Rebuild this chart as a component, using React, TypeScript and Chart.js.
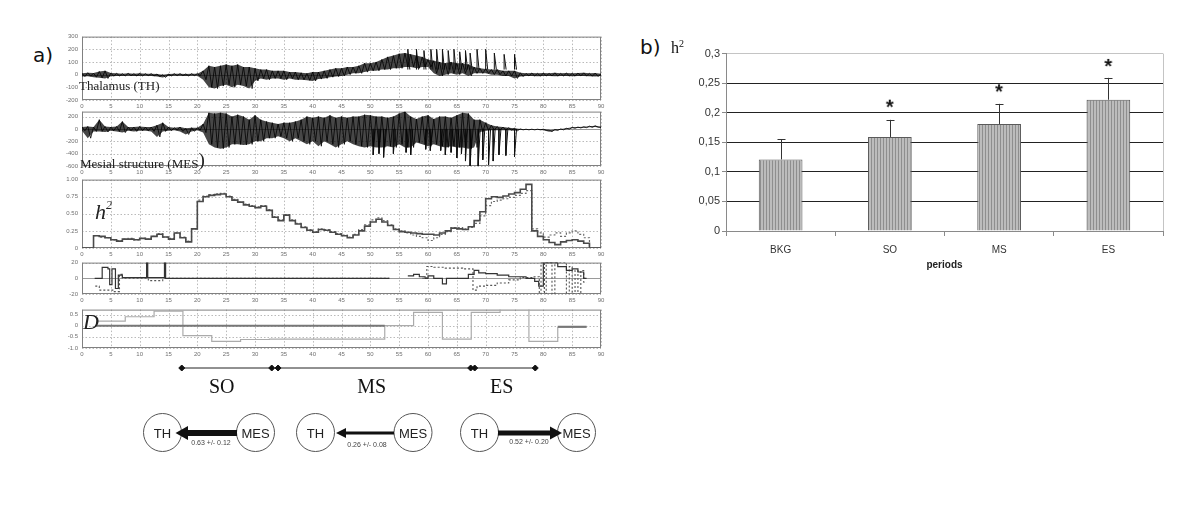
import React, { useEffect, useRef } from "react";
import { Chart, registerables } from "chart.js";
Chart.register(...registerables);

const SANS = '"Liberation Sans", Arial, Helvetica, sans-serif';
const SERIF = '"Liberation Serif", "Times New Roman", serif';

// ---------- panel a data ----------
const TIME_TICKS = [0, 5, 10, 15, 20, 25, 30, 35, 40, 45, 50, 55, 60, 65, 70, 75, 80, 85, 90];

// Thalamus envelope (one value per second, 0..90 s)
const TH_UP = [10, 15, 12, 25, 30, 12, 10, 8, 10, 8, 10, 8, 8, 5, 0, 5, 8, 8, 6, 8, 8, 30, 70, 60, 70, 80, 70, 80, 60, 60, 50, 40, 40, 30, 30, 30, 20, 20, 15, 10, 20, 20, 30, 40, 50, 50, 60, 60, 70, 90, 90, 100, 120, 140, 150, 165, 170, 160, 150, 140, 120, 110, 100, 90, 100, 90, 90, 80, 60, 50, 45, 40, 40, 30, 30, 30, 15, 10, 12, 10, 12, 10, 14, 10, 12, 10, 12, 14, 10, 12, 8];
const TH_LO = [-15, -12, -20, -25, -30, -12, -10, -10, -8, -10, -10, -8, -10, -15, -22, -10, -8, -8, -10, -8, -8, -40, -100, -110, -90, -80, -100, -80, -90, -110, -50, -30, -40, -30, -30, -40, -30, -40, -40, -45, -50, -35, -30, -20, -15, -10, 0, 10, 10, 20, 30, 30, 40, 40, 50, 50, 60, 60, 50, 60, 60, 10, -10, 0, 10, 0, 10, -10, 10, 10, 10, 0, 0, -10, -10, -30, -15, -10, -10, -12, -10, -10, -12, -10, -10, -12, -10, -10, -12, -15, -10];
const TH_SPIKE_T = [56.5, 58, 59.3, 60.5, 61.5, 62.5, 63.5, 64.5, 65.5, 66.5, 67.3, 68.5, 70, 71.5, 73.2, 75];
const TH_SPIKE_V = [200, 200, 190, 200, 200, 200, 190, 200, 180, 190, 170, 200, 200, 170, 160, 160];

// Mesial structure envelope
const MES_UP = [30, 40, 30, 150, 40, 30, 40, 120, 30, 30, 40, 30, 30, 60, 100, 30, 20, 30, 10, 20, 20, 80, 260, 250, 260, 250, 200, 230, 200, 150, 220, 150, 120, 100, 80, 100, 100, 120, 150, 200, 180, 200, 180, 220, 180, 200, 180, 200, 200, 230, 220, 200, 200, 180, 200, 250, 280, 200, 160, 200, 220, 160, 200, 200, 180, 220, 260, 250, 150, 150, 100, 60, 40, 30, 20, 10, 0, -5, -5, -5, -5, -20, -10, 0, 10, 25, 30, 35, 45, 50, 30];
const MES_LO = [-30, -150, -40, -40, -50, -30, -40, -60, -30, -40, -30, -30, -40, -130, -40, -30, -20, -40, -90, -40, -20, -60, -250, -300, -320, -300, -250, -250, -260, -250, -200, -200, -150, -150, -120, -150, -200, -150, -200, -250, -200, -280, -200, -250, -300, -250, -200, -250, -280, -300, -280, -300, -300, -280, -300, -250, -300, -300, -220, -250, -280, -250, -280, -300, -280, -300, -300, -320, -300, -50, -30, -20, -20, -20, -20, -30, -15, -15, -15, -15, -20, -45, -25, -15, -5, 10, 15, 20, 25, 30, 15];
const MES_SPIKE_T = [50.5, 51.5, 52.3, 54, 56.2, 57, 59.6, 60.4, 62.2, 63, 64, 65, 65.8, 66.5, 67.3, 68.7, 69.5, 70.5, 71.3, 72.3, 73.5, 75];
const MES_SPIKE_V = [-420, -400, -460, -400, -380, -420, -330, -350, -350, -420, -380, -470, -400, -520, -600, -600, -500, -580, -520, -420, -430, -450];

// h2 (one value per second)
const H2_SOLID = [0, 0, 0.18, 0.17, 0.15, 0.12, 0.10, 0.13, 0.13, 0.12, 0.14, 0.13, 0.17, 0.20, 0.16, 0.13, 0.22, 0.15, 0.09, 0.28, 0.68, 0.75, 0.77, 0.78, 0.79, 0.75, 0.70, 0.67, 0.63, 0.61, 0.59, 0.61, 0.55, 0.45, 0.40, 0.48, 0.40, 0.35, 0.30, 0.26, 0.23, 0.27, 0.26, 0.23, 0.20, 0.18, 0.15, 0.19, 0.25, 0.32, 0.38, 0.42, 0.38, 0.33, 0.27, 0.24, 0.23, 0.22, 0.21, 0.20, 0.20, 0.19, 0.22, 0.25, 0.29, 0.28, 0.27, 0.31, 0.40, 0.53, 0.72, 0.75, 0.74, 0.76, 0.79, 0.81, 0.86, 0.93, 0.25, 0.17, 0.12, 0.08, 0.05, 0.09, 0.11, 0.12, 0.10, 0.07, 0, 0, 0];
const H2_DASH = [null, null, 0.18, 0.16, 0.15, 0.12, 0.11, 0.13, 0.14, 0.12, 0.14, 0.13, 0.17, 0.21, 0.16, 0.14, 0.22, 0.16, 0.10, 0.28, 0.70, 0.76, 0.78, 0.79, 0.80, 0.76, 0.71, 0.67, 0.64, 0.62, 0.60, 0.62, 0.56, 0.46, 0.41, 0.49, 0.41, 0.36, 0.31, 0.27, 0.24, 0.28, 0.27, 0.24, 0.21, 0.19, 0.16, 0.20, 0.27, 0.34, 0.41, 0.44, 0.40, 0.34, 0.28, 0.25, 0.22, 0.19, 0.17, 0.15, 0.11, 0.15, 0.20, 0.24, 0.30, 0.30, 0.28, 0.30, 0.36, 0.47, 0.62, 0.68, 0.70, 0.72, 0.74, 0.77, 0.80, 0.84, 0.28, 0.22, 0.16, 0.19, 0.22, 0.17, 0.22, 0.25, 0.20, 0.15, 0.0, null, null];

// delay
const DLY_S_T = [2.2, 3.5, 4.5, 4.8, 5.2, 5.8, 6.3, 7, 11.2, 11.4, 14.3, 14.5, 53.3, 53.4, 56.5, 57.5, 58.5, 59.5, 60, 61, 62.5, 63.2, 67, 68, 68.8, 70, 72, 74, 77, 78.5, 79.2, 80, 82.5, 84, 85, 86, 87, 87.5];
const DLY_S_V = [0, 14, 12, -8, 12, -13, 4, 1, 20, 1, 20, 0, 0, null, 3, 5, 2, 0, 3, 0, -7, 0, 5, 10, 7, 6, 4, 2, 0, -4, -10, 20, 15, 10, 12, 8, 0, 0];
const DLY_D_T = [2.3, 3, 5.5, 6.5, 7, 11.5, 14, 53.3, 53.4, 59, 59.8, 61, 63, 66, 67.8, 68.5, 70, 72, 74, 76, 78, 79.3, 79.6, 80.2, 80.5, 81.5, 82, 84, 84.5, 85, 85.5, 86, 86.5, 87, 87.5];
const DLY_D_V = [-10, -15, -17, 5, 0, -3, 0, 0, null, 0, 15, 14, 13, 12, -15, -10, -9, -6, -2, 1, 2, -20, 20, -20, 20, -20, 20, -20, 15, -20, 10, -20, 10, -5, -5];

// D
const D_T = [2.5, 7.5, 12.5, 17.5, 22.5, 27.5, 32.5, 37.5, 42.5, 47.5, 52.5, 57.5, 62.5, 67.5, 72.5, 72.6, 77.5, 77.5, 82.5, 87.5];
const D_V = [0.2, 0.4, 0.65, -0.45, -0.7, -0.62, -0.6, -0.6, -0.6, -0.6, 0, 0.6, -0.6, 0.6, 1.0, null, 1.0, -0.7, -0.08, -0.08];
const D0_T = [2.5, 52.5, 52.6, 82.5, 87.5];
const D0_V = [0, 0, null, -0.05, -0.05];

// periods
const PERIOD_NAMES = ["SO", "MS", "ES"];
const PERIOD_START = [17.3, 34.0, 68.1];
const PERIOD_END = [32.9, 67.4, 78.6];

// ---------- panel b data ----------
const PERIODS = ["BKG", "SO", "MS", "ES"];
const H2_MEAN = [0.121, 0.159, 0.181, 0.222];
const H2_ERR_TOP = [0.155, 0.188, 0.215, 0.259];
const STAR_Y = [null, 0.217, 0.243, 0.286];
const B_TICKS_STEP = 0.05;

// ---------- layout ----------
type Rect = { x0: number; y0: number; x1: number; y1: number };
const PAD = { l: 2, r: 14, t: 6, b: 2 };
const YW = 26;
const XH = 12;
const R_TH: Rect = { x0: 82, x1: 601, y0: 35, y1: 100 };
const R_MES: Rect = { x0: 82, x1: 601, y0: 110, y1: 166 };
const R_H2: Rect = { x0: 82, x1: 601, y0: 178, y1: 248 };
const R_DLY: Rect = { x0: 82, x1: 601, y0: 261, y1: 294 };
const R_D: Rect = { x0: 82, x1: 601, y0: 308, y1: 348 };

function boxOf(r: Rect) {
  return {
    left: r.x0 - PAD.l - YW,
    top: r.y0 - PAD.t,
    width: r.x1 - r.x0 + YW + PAD.l + PAD.r,
    height: r.y1 - r.y0 + XH + PAD.t + PAD.b,
  };
}

const pts = (t: number[], v: (number | null)[]) => t.map((x, i) => ({ x, y: v[i] }));
const perSecond = (v: (number | null)[]) => v.map((y, i) => ({ x: i, y }));
const zig = (up: number[], lo: number[]) => {
  const out: { x: number; y: number }[] = [];
  up.forEach((u, i) => {
    out.push({ x: i, y: u });
    out.push({ x: i + 0.5, y: lo[i] });
  });
  return out;
};
const spikes = (t: number[], v: number[], base: number) => {
  const out: { x: number; y: number | null }[] = [];
  t.forEach((x, i) => {
    out.push({ x, y: base });
    out.push({ x, y: v[i] });
    out.push({ x: x + 0.35, y: base });
    out.push({ x: x + 0.36, y: null });
  });
  return out;
};

function makeFrame(zero: boolean) {
  return {
    id: "frameGrid",
    beforeDatasetsDraw(chart: any) {
      const { ctx, chartArea: a, scales } = chart;
      ctx.save();
      ctx.strokeStyle = "#a8a8a8";
      ctx.lineWidth = 0.8;
      ctx.setLineDash([1.5, 2]);
      scales.x.ticks.forEach((t: any) => {
        const px = Math.round(scales.x.getPixelForValue(t.value)) + 0.5;
        ctx.beginPath();
        ctx.moveTo(px, a.top);
        ctx.lineTo(px, a.bottom);
        ctx.stroke();
      });
      scales.y.ticks.forEach((t: any) => {
        const py = Math.round(scales.y.getPixelForValue(t.value)) + 0.5;
        ctx.beginPath();
        ctx.moveTo(a.left, py);
        ctx.lineTo(a.right, py);
        ctx.stroke();
      });
      ctx.setLineDash([]);
      if (zero) {
        const py = Math.round(scales.y.getPixelForValue(0)) + 0.5;
        ctx.strokeStyle = "#9a9a9a";
        ctx.lineWidth = 1;
        ctx.beginPath();
        ctx.moveTo(a.left, py);
        ctx.lineTo(a.right, py);
        ctx.stroke();
      }
      ctx.strokeStyle = "#808080";
      ctx.lineWidth = 1;
      ctx.strokeRect(a.left + 0.5, a.top + 0.5, a.width - 1, a.height - 1);
      ctx.restore();
    },
  };
}

function panelConfig(datasets: any[], yMin: number, yMax: number, yTicks: number[], fmt: (v: number) => string, zero: boolean) {
  return {
    type: "line",
    data: { datasets },
    plugins: [makeFrame(zero)],
    options: {
      responsive: false,
      animation: false,
      devicePixelRatio: 1,
      layout: { padding: { left: PAD.l, right: PAD.r, top: PAD.t, bottom: PAD.b } },
      plugins: { legend: { display: false }, tooltip: { enabled: false } },
      elements: { point: { radius: 0 }, line: { tension: 0 } },
      scales: {
        x: {
          type: "linear",
          min: 0,
          max: 90,
          afterBuildTicks: (s: any) => {
            s.ticks = TIME_TICKS.map((v) => ({ value: v }));
          },
          afterFit: (s: any) => {
            s.height = XH;
          },
          grid: { display: false, drawTicks: false },
          border: { display: false },
          ticks: { font: { size: 6, family: SANS }, color: "#707070", padding: 3, maxRotation: 0, autoSkip: false },
        },
        y: {
          type: "linear",
          min: yMin,
          max: yMax,
          afterBuildTicks: (s: any) => {
            s.ticks = yTicks.map((v) => ({ value: v }));
          },
          afterFit: (s: any) => {
            s.width = YW;
          },
          grid: { display: false, drawTicks: false },
          border: { display: false },
          ticks: { font: { size: 6, family: SANS }, color: "#707070", padding: 4, callback: (v: any) => fmt(Number(v)) },
        },
      },
    },
  };
}

function traceDatasets(up: number[], lo: number[], sT: number[], sV: number[], base: number) {
  return [
    { data: zig(up, lo), borderColor: "#000", borderWidth: 0.8, pointRadius: 0 },
    { data: spikes(sT, sV, base), borderColor: "#111", borderWidth: 1, pointRadius: 0, spanGaps: false },
    { data: perSecond(up), borderColor: "rgba(0,0,0,0)", borderWidth: 0, pointRadius: 0, fill: false },
    { data: perSecond(lo), borderColor: "rgba(0,0,0,0)", borderWidth: 0, pointRadius: 0, fill: "-1", backgroundColor: "rgba(0,0,0,0.72)" },
  ];
}

function ChartBox({ box, make }: { box: { left: number; top: number; width: number; height: number }; make: (ctx: CanvasRenderingContext2D) => any }) {
  const ref = useRef<HTMLCanvasElement>(null);
  useEffect(() => {
    const c = ref.current!;
    const chart = new Chart(c, make(c.getContext("2d")!));
    return () => chart.destroy();
  }, []);
  return (
    <canvas
      ref={ref}
      width={box.width}
      height={box.height}
      style={{ position: "absolute", left: box.left, top: box.top, width: box.width, height: box.height }}
    />
  );
}

// ---------- panel b ----------
const B_RECT = { x0: 726, x1: 1163, y0: 53, y1: 231 };
const B_YW = 50;
const B_XH = 44;
const B_PAD = { l: 0, r: 12, t: 8, b: 0 };
const B_BOX = {
  left: B_RECT.x0 - B_YW - B_PAD.l,
  top: B_RECT.y0 - B_PAD.t,
  width: B_RECT.x1 - B_RECT.x0 + B_YW + B_PAD.l + B_PAD.r,
  height: B_RECT.y1 - B_RECT.y0 + B_XH + B_PAD.t + B_PAD.b,
};

function stripePattern(ctx: CanvasRenderingContext2D) {
  const off = document.createElement("canvas");
  off.width = 3;
  off.height = 8;
  const o = off.getContext("2d")!;
  o.fillStyle = "#bcbcbc";
  o.fillRect(0, 0, 3, 8);
  o.fillStyle = "#8e8e8e";
  o.fillRect(0, 0, 1, 8);
  return ctx.createPattern(off, "repeat");
}

function asteriskImage() {
  const c = document.createElement("canvas");
  c.width = 14;
  c.height = 14;
  const o = c.getContext("2d")!;
  o.fillStyle = "#111";
  o.font = `bold 20px ${SANS}`;
  o.textAlign = "center";
  o.textBaseline = "alphabetic";
  o.fillText("*", 7, 18);
  return c;
}

const errorBars = {
  id: "errorBars",
  afterDatasetsDraw(chart: any) {
    const { ctx, scales } = chart;
    const meta = chart.getDatasetMeta(1);
    ctx.save();
    ctx.strokeStyle = "#333";
    ctx.lineWidth = 1;
    meta.data.forEach((bar: any, i: number) => {
      const x = Math.round(bar.x) + 0.5;
      const yTop = scales.y.getPixelForValue(H2_ERR_TOP[i]);
      ctx.beginPath();
      ctx.moveTo(x, bar.y);
      ctx.lineTo(x, yTop);
      ctx.moveTo(x - 4, Math.round(yTop) + 0.5);
      ctx.lineTo(x + 4, Math.round(yTop) + 0.5);
      ctx.stroke();
    });
    ctx.restore();
  },
};

const rightBorder = {
  id: "rightBorder",
  beforeDatasetsDraw(chart: any) {
    const { ctx, chartArea: a } = chart;
    ctx.save();
    ctx.strokeStyle = "#c4c4c4";
    ctx.lineWidth = 1;
    ctx.beginPath();
    ctx.moveTo(Math.round(a.right) + 0.5, a.top);
    ctx.lineTo(Math.round(a.right) + 0.5, a.bottom);
    ctx.stroke();
    ctx.restore();
  },
};

const fmtComma = (v: number) => {
  const n = +Number(v).toFixed(2);
  return n === 0 ? "0" : String(n).replace(".", ",");
};

function barConfig(ctx: CanvasRenderingContext2D) {
  return {
    type: "bar",
    data: {
      labels: PERIODS,
      datasets: [
        {
          type: "line",
          data: STAR_Y,
          showLine: false,
          pointStyle: asteriskImage(),
          pointRadius: 5,
          order: 0,
        },
        {
          type: "bar",
          data: H2_MEAN,
          backgroundColor: stripePattern(ctx),
          borderColor: "#5a5a5a",
          borderWidth: 1,
          barPercentage: 0.4,
          categoryPercentage: 1,
          order: 1,
        },
      ],
    },
    plugins: [errorBars, rightBorder],
    options: {
      responsive: false,
      animation: false,
      devicePixelRatio: 1,
      layout: { padding: { left: B_PAD.l, right: B_PAD.r, top: B_PAD.t, bottom: B_PAD.b } },
      plugins: { legend: { display: false }, tooltip: { enabled: false } },
      scales: {
        x: {
          afterFit: (s: any) => {
            s.height = B_XH;
          },
          grid: { offset: true, drawOnChartArea: false, drawTicks: true, tickLength: 5, tickColor: "#8a8a8a" },
          border: { color: "#8a8a8a" },
          ticks: { font: { size: 10, family: SANS }, color: "#333", padding: 8 },
          title: { display: true, text: "periods", font: { size: 10, weight: "bold", family: SANS }, color: "#222", padding: { top: 4, bottom: 4 } },
        },
        y: {
          min: 0,
          max: 0.3,
          afterFit: (s: any) => {
            s.width = B_YW;
          },
          ticks: { stepSize: B_TICKS_STEP, font: { size: 11, family: SANS }, color: "#333", padding: 2, callback: (v: any) => fmtComma(v) },
          grid: {
            color: (c: any) => {
              const v = c.tick ? c.tick.value : null;
              if (v == null) return "#222";
              if (Math.abs(v - 0.3) < 1e-6) return "#c4c4c4";
              if (Math.abs(v) < 1e-6) return "rgba(0,0,0,0)";
              return "#222";
            },
            tickColor: "#8a8a8a",
            tickLength: 4,
            lineWidth: 1,
          },
          border: { color: "#8a8a8a" },
        },
      },
    },
  };
}

// ---------- timeline ----------
const TL_RECT = { x0: 82, x1: 601, y0: 362, y1: 374 };
const TL_BOX = { left: TL_RECT.x0 - 6, top: TL_RECT.y0 - 6, width: TL_RECT.x1 - TL_RECT.x0 + 12, height: TL_RECT.y1 - TL_RECT.y0 + 12 };
function timelineConfig() {
  return {
    type: "line",
    data: {
      datasets: PERIOD_NAMES.map((_, i) => ({
        data: [
          { x: PERIOD_START[i], y: 0.5 },
          { x: PERIOD_END[i], y: 0.5 },
        ],
        borderColor: "#222",
        borderWidth: 1,
        pointStyle: "rectRot",
        pointRadius: 3,
        pointBackgroundColor: "#111",
        pointBorderColor: "#111",
        clip: false,
      })),
    },
    options: {
      responsive: false,
      animation: false,
      devicePixelRatio: 1,
      layout: { padding: 6 },
      plugins: { legend: { display: false }, tooltip: { enabled: false } },
      scales: {
        x: { type: "linear", min: 0, max: 90, display: false },
        y: { min: 0, max: 1, display: false },
      },
    },
  };
}

const PERIOD_LABEL_X = [221.7, 371.7, 501.7];

export default function App() {
  const fmtInt = (v: number) => String(v);
  const fmtH2 = (v: number) => (v === 0 ? "0" : v.toFixed(2));
  const fmtD = (v: number) => (v === 0 ? "0" : v.toFixed(1));

  const thCfg = () => panelConfig(traceDatasets(TH_UP, TH_LO, TH_SPIKE_T, TH_SPIKE_V, 40), -200, 300, [300, 200, 100, 0, -100, -200], fmtInt, true);
  const mesCfg = () => panelConfig(traceDatasets(MES_UP, MES_LO, MES_SPIKE_T, MES_SPIKE_V, 0), -600, 280, [200, 0, -200, -400, -600], fmtInt, true);
  const h2Cfg = () =>
    panelConfig(
      [
        { data: perSecond(H2_SOLID), borderColor: "#4a4a4a", borderWidth: 1.6, stepped: true, pointRadius: 0 },
        { data: perSecond(H2_DASH), borderColor: "#6a6a6a", borderWidth: 1.2, borderDash: [2, 2], stepped: true, pointRadius: 0 },
      ],
      0, 1, [1, 0.75, 0.5, 0.25, 0], fmtH2, false
    );
  const dlyCfg = () =>
    panelConfig(
      [
        { data: pts(DLY_S_T, DLY_S_V), borderColor: "#333", borderWidth: 1.2, stepped: true, pointRadius: 0 },
        { data: pts(DLY_D_T, DLY_D_V), borderColor: "#555", borderWidth: 1.1, borderDash: [2, 2], stepped: true, pointRadius: 0 },
      ],
      -20, 20, [20, 10, 0, -10, -20], fmtInt, true
    );
  const dCfg = () =>
    panelConfig(
      [
        { data: pts(D0_T, D0_V), borderColor: "#777", borderWidth: 2, stepped: true, pointRadius: 0 },
        { data: pts(D_T, D_V), borderColor: "#ababab", borderWidth: 1.2, stepped: true, pointRadius: 0 },
      ],
      -1, 0.72, [0.5, 0, -0.5, -1], fmtD, false
    );

  const txt = (style: React.CSSProperties, content: React.ReactNode, key?: string) => (
    <div key={key} style={{ position: "absolute", lineHeight: 1, whiteSpace: "nowrap", color: "#111", ...style }}>
      {content}
    </div>
  );

  return (
    <div style={{ position: "absolute", left: 0, top: 0, width: 1200, height: 507, background: "#fff", overflow: "hidden" }}>
      <ChartBox box={boxOf(R_TH)} make={thCfg} />
      <ChartBox box={boxOf(R_MES)} make={mesCfg} />
      <ChartBox box={boxOf(R_H2)} make={h2Cfg} />
      <ChartBox box={boxOf(R_DLY)} make={dlyCfg} />
      <ChartBox box={boxOf(R_D)} make={dCfg} />
      <ChartBox box={TL_BOX} make={timelineConfig} />
      <ChartBox box={B_BOX} make={barConfig} />

      {txt({ left: 33, top: 45, fontFamily: '"DejaVu Sans", Verdana, sans-serif', fontSize: 20 }, "a)")}
      {txt({ left: 640, top: 37, fontFamily: '"DejaVu Sans", Verdana, sans-serif', fontSize: 20 }, "b)")}
      {txt(
        { left: 671, top: 40, fontFamily: SERIF, fontSize: 16 },
        <span>
          h<span style={{ fontSize: 10, position: "relative", top: -6 }}>2</span>
        </span>
      )}

      {txt({ left: 79, top: 79, fontFamily: SERIF, fontSize: 13, color: "#222" }, "Thalamus (TH)")}
      {txt(
        { left: 80, top: 152, fontFamily: SERIF, fontSize: 13, color: "#222" },
        <span>
          Mesial structure (MES<span style={{ fontSize: 19, position: "relative", top: -2 }}>)</span>
        </span>
      )}
      {txt(
        { left: 95, top: 201, fontFamily: SERIF, fontSize: 22, fontStyle: "italic", color: "#222" },
        <span>
          h<span style={{ fontSize: 12, position: "relative", top: -10 }}>2</span>
        </span>
      )}
      {txt({ left: 83, top: 311, fontFamily: SERIF, fontSize: 22, fontStyle: "italic", color: "#222" }, "D")}

      {PERIOD_NAMES.map((n, i) =>
        txt({ left: PERIOD_LABEL_X[i], top: 376, transform: "translateX(-50%)", fontFamily: SERIF, fontSize: 20, color: "#111" }, n, n)
      )}

      <svg width={1200} height={507} style={{ position: "absolute", left: 0, top: 0, pointerEvents: "none" }}>
        <g fill="#fff" stroke="#555" strokeWidth={1}>
          <circle cx={162.5} cy={432.5} r={19} />
          <circle cx={255.5} cy={432.5} r={19} />
          <circle cx={315.5} cy={432.5} r={19} />
          <circle cx={413} cy={432.5} r={19} />
          <circle cx={479.5} cy={432.5} r={19} />
          <circle cx={576.5} cy={432.5} r={19} />
        </g>
        <g fill="#111">
          <rect x={186} y={430} width={51} height={6} />
          <polygon points="175.5,433 188,426 188,440" />
          <rect x={344} y={431.5} width={50} height={3} />
          <polygon points="336,433 346,428 346,438" />
          <rect x={498} y={430.5} width={54} height={5} />
          <polygon points="562,433 550,426.5 550,439.5" />
        </g>
        <g fontFamily={SANS} fontSize={13} fill="#222" textAnchor="middle">
          <text x={162.5} y={437.5}>TH</text>
          <text x={255.5} y={437.5}>MES</text>
          <text x={315.5} y={437.5}>TH</text>
          <text x={413} y={437.5}>MES</text>
          <text x={479.5} y={437.5}>TH</text>
          <text x={576.5} y={437.5}>MES</text>
        </g>
        <g fontFamily={SANS} fontSize={7} fill="#444" textAnchor="middle">
          <text x={211} y={445}>0.63 +/- 0.12</text>
          <text x={367} y={446.5}>0.26 +/- 0.08</text>
          <text x={529} y={443.5}>0.52 +/- 0.20</text>
        </g>
      </svg>
    </div>
  );
}
